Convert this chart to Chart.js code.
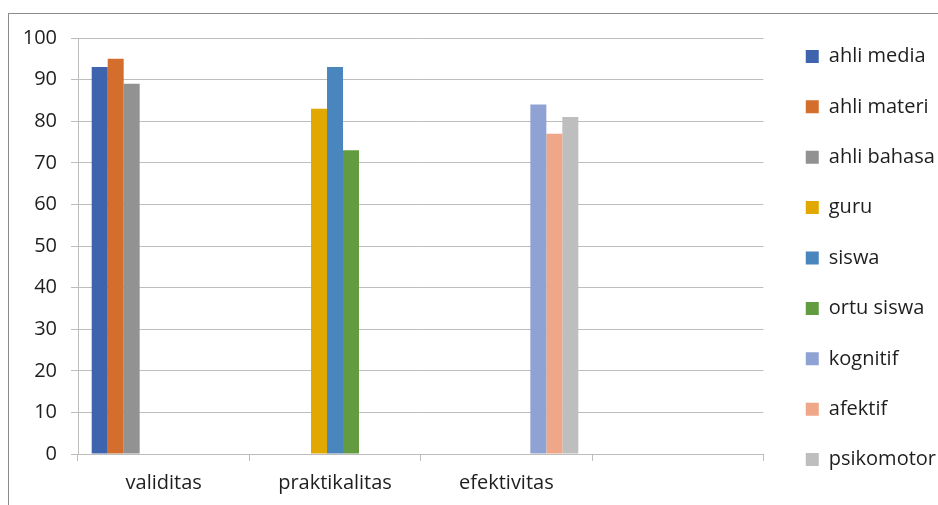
<!DOCTYPE html>
<html>
<head>
<meta charset="utf-8">
<script src="https://cdn.jsdelivr.net/npm/chart.js@4/dist/chart.umd.min.js"></script>
<style>
  html, body { margin: 0; padding: 0; background: #fff; overflow: hidden; }
  #frame { position: absolute; left: 8px; top: 13px; width: 1000px; height: 600px; border: 1px solid #8c8c8c; }
  #wrap { position: absolute; left: 0; top: 0; width: 938px; height: 505px; }
</style>
</head>
<body>
<div id="frame"></div>
<div id="wrap"><canvas id="myChart" width="938" height="505"></canvas></div>
<script>
const categories = ['validitas', 'praktikalitas', 'efektivitas', ''];

const seriesNames = ['ahli media', 'ahli materi', 'ahli bahasa', 'guru', 'siswa', 'ortu siswa', 'kognitif', 'afektif', 'psikomotor'];

const ahliMedia  = [93, null, null, null];
const ahliMateri = [95, null, null, null];
const ahliBahasa = [89, null, null, null];
const guru       = [null, 83, null, null];
const siswa      = [null, 93, null, null];
const ortuSiswa  = [null, 73, null, null];
const kognitif   = [null, null, 84, null];
const afektif    = [null, null, 77, null];
const psikomotor = [null, null, 81, null];

const yTicks = [0, 10, 20, 30, 40, 50, 60, 70, 80, 90, 100];

const seriesValues = [ahliMedia, ahliMateri, ahliBahasa, guru, siswa, ortuSiswa, kognitif, afektif, psikomotor];
const colors = ['#3f64ae', '#d46e2c', '#929292', '#e0a800', '#4a86be', '#629b40', '#8fa2d4', '#f0a688', '#bebebe'];

const font = { family: '"Open Sans", Lato, sans-serif', size: 20 };
const textColor = '#1e1e1e';
const gridColor = '#bdbdbd';

// nudge the legend a bit right of the plot, like the excel original
const legendShift = {
    id: 'legendShift',
    afterLayout(chart) {
        chart.legend.left += 12;
        chart.legend.right += 12;
    }
};

const ctx = document.getElementById('myChart').getContext('2d');
const myChart = new Chart(ctx, {
    type: 'bar',
    data: {
        labels: categories,
        datasets: seriesNames.map((name, i) => ({
            label: name,
            data: seriesValues[i],
            backgroundColor: colors[i],
            borderWidth: 0,
            categoryPercentage: 0.84,
            barPercentage: 1.0
        }))
    },
    plugins: [legendShift],
    options: {
        responsive: false,
        animation: false,
        layout: { padding: { left: 8, top: 11, right: 4, bottom: 0 } },
        plugins: {
            title: { display: true, text: ' ', fullSize: false, font: { size: 10 }, padding: { top: 15, bottom: 0 } },
            tooltip: { enabled: false },
            legend: {
                position: 'right',
                align: 'center',
                labels: {
                    color: textColor,
                    font: font,
                    boxWidth: 13,
                    boxHeight: 13,
                    padding: 30.4
                }
            }
        },
        scales: {
            x: {
                grid: { drawOnChartArea: false, drawTicks: true, tickLength: 7, color: gridColor, offset: true },
                border: { display: true, color: gridColor },
                ticks: { color: textColor, font: font, padding: 10 },
                afterFit: (axis) => { axis.height = 51; }
            },
            y: {
                min: 0,
                max: 100,
                afterBuildTicks: (axis) => { axis.ticks = yTicks.map(v => ({ value: v })); },
                grid: { color: gridColor, tickLength: 7 },
                border: { display: true, color: gridColor },
                ticks: { color: textColor, font: font, padding: 14 },
                afterFit: (axis) => { axis.width = 70; }
            }
        }
    }
});
</script>
</body>
</html>
